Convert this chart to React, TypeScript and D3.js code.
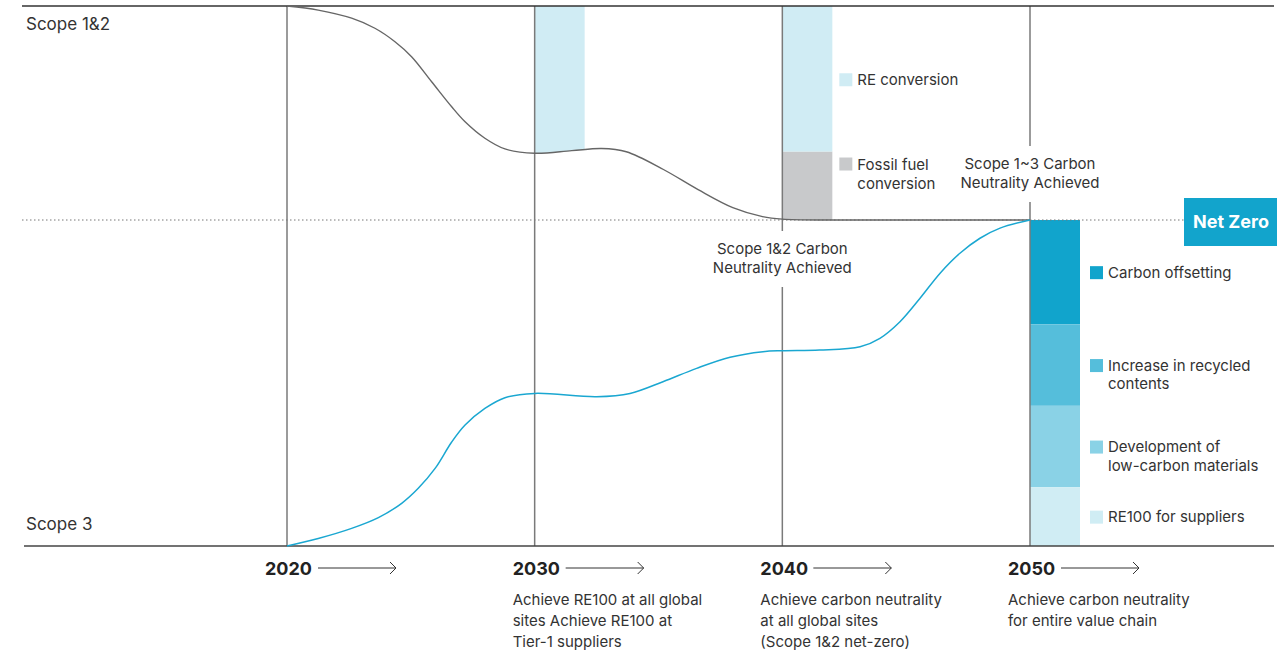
import React from "react";
import * as d3 from "d3";

// ---------- DATA ----------
const years = [2020, 2030, 2040, 2050];

// Scope 1&2 remaining emissions (% of 2020)
const scope12Curve: [number, number][] = [
  [2020, 100], [2021.26, 98.1], [2022.61, 94.3], [2023.55, 89.6], [2024.36, 83.3],
  [2025.03, 76.3], [2025.84, 64.6], [2026.65, 52.9], [2027.19, 45.9], [2027.99, 38.2],
  [2028.8, 33.2], [2030, 31.2], [2031.5, 32.4], [2032.7, 33.4], [2033.7, 31.9],
  [2035.2, 23.6], [2036.6, 14.2], [2038.0, 5.8], [2039.2, 1.6], [2040, 0.4],
  [2042, 0], [2045, 0], [2050, 0],
];

// Scope 3 remaining emissions (% of 2020, measured downward from net zero)
const scope3Curve: [number, number][] = [
  [2020, 100], [2021.26, 97.7], [2022.61, 94.6], [2023.69, 91.3], [2024.63, 86.9],
  [2025.3, 82.3], [2025.98, 76.2], [2026.65, 68.1], [2027.19, 62.9], [2027.99, 57.8],
  [2028.8, 54.5], [2030, 53.2], [2032.5, 54.2], [2033.85, 53.2], [2035.18, 49.6],
  [2036.54, 45.5], [2037.89, 42.1], [2039.22, 40.4], [2040, 40.1], [2041.5, 39.9],
  [2043.14, 38.9], [2043.94, 36.3], [2044.75, 31.2], [2045.56, 24.0], [2046.37, 16.3],
  [2047.17, 10.2], [2047.98, 5.6], [2048.79, 2.5], [2050, 0],
];

// 2040 stacked bar (Scope 1&2), bottom to top
const stack2040Labels = [["Fossil fuel", "conversion"], ["RE conversion"]];
const stack2040Values = [32, 68];
const stack2040Colors = ["#c8c9cb", "#d0ecf4"];

// 2050 stacked bar (Scope 3), top (net zero) to bottom
const stack2050Labels = [
  ["Carbon offsetting"],
  ["Increase in recycled", "contents"],
  ["Development of", "low-carbon materials"],
  ["RE100 for suppliers"],
];
const stack2050Values = [32, 25, 25, 18];
const stack2050Colors = ["#11a4cc", "#55bedb", "#8ad2e6", "#d0edf4"];

const milestoneDescriptions = [
  [],
  ["Achieve RE100 at all global", "sites Achieve RE100 at", "Tier-1 suppliers"],
  ["Achieve carbon neutrality", "at all global sites", "(Scope 1&2 net-zero)"],
  ["Achieve carbon neutrality", "for entire value chain"],
];

const scope12Achieved = ["Scope 1&2 Carbon", "Neutrality Achieved"];
const scope13Achieved = ["Scope 1~3 Carbon", "Neutrality Achieved"];

// ---------- LAYOUT ----------
const W = 1284;
const H = 652;
const TOP = 6;
const ZERO = 220;
const BASE = 546;
const BAR_W = 50;
const FONT = "Inter, 'Noto Sans', sans-serif";
const TXT = "#333";

const x = d3.scaleLinear().domain([2020, 2050]).range([287, 1030]);
const yTop = d3.scaleLinear().domain([0, 100]).range([ZERO, TOP]);
const yBot = d3.scaleLinear().domain([0, 100]).range([ZERO, BASE]);

export default function App() {
  const curve = d3.curveCatmullRom.alpha(0.5);
  const line12 = d3
    .line<[number, number]>()
    .x((d) => x(d[0]))
    .y((d) => yTop(d[1]))
    .curve(curve);
  const line3 = d3
    .line<[number, number]>()
    .x((d) => x(d[0]))
    .y((d) => yBot(d[1]))
    .curve(curve);
  const area2030 = d3
    .area<[number, number]>()
    .x((d) => x(d[0]))
    .y0(yTop(100))
    .y1((d) => yTop(d[1]))
    .curve(curve);

  // stacks
  let acc = 0;
  const s2040 = stack2040Values.map((v, i) => {
    const r = { y0: acc, y1: acc + v, i };
    acc += v;
    return r;
  });
  acc = 0;
  const s2050 = stack2050Values.map((v, i) => {
    const r = { y0: acc, y1: acc + v, i };
    acc += v;
    return r;
  });

  const x2030 = x(2030);
  const x2040 = x(2040);
  const x2050 = x(2050);

  // vertical line gaps for labels
  const gaps: Record<number, [number, number] | null> = {
    2020: null,
    2030: null,
    2040: [231, 287],
    2050: [146, 202],
  };

  return (
    <svg
      width={W}
      height={H}
      style={{ position: "absolute", left: 0, top: 0, background: "#fff" }}
      fontFamily={FONT}
    >
      <defs>
        <clipPath id="clip2030">
          <rect x={x2030} y={0} width={BAR_W} height={ZERO} />
        </clipPath>
      </defs>

      {/* 2030 RE conversion bar following the curve */}
      <path d={area2030(scope12Curve) || ""} fill="#d0ecf4" clipPath="url(#clip2030)" />

      {/* 2040 stacked bar */}
      {s2040.map((s) => (
        <rect
          key={"b40" + s.i}
          x={x2040}
          y={yTop(s.y1)}
          width={BAR_W}
          height={yTop(s.y0) - yTop(s.y1)}
          fill={stack2040Colors[s.i]}
        />
      ))}

      {/* 2050 stacked bar */}
      {s2050.map((s) => (
        <rect
          key={"b50" + s.i}
          x={x2050}
          y={yBot(s.y0)}
          width={BAR_W}
          height={yBot(s.y1) - yBot(s.y0)}
          fill={stack2050Colors[s.i]}
        />
      ))}

      {/* net zero dotted line */}
      <line x1={22} x2={1185} y1={ZERO} y2={ZERO} stroke="#777" strokeWidth={1} strokeDasharray="1.5 2.5" />

      {/* vertical lines */}
      {years.map((yr) => {
        const g = gaps[yr];
        const xx = x(yr);
        if (!g)
          return <line key={"v" + yr} x1={xx} x2={xx} y1={TOP} y2={BASE} stroke="#7a7a7a" strokeWidth={1.5} />;
        return (
          <g key={"v" + yr}>
            <line x1={xx} x2={xx} y1={TOP} y2={g[0]} stroke="#7a7a7a" strokeWidth={1.5} />
            <line x1={xx} x2={xx} y1={g[1]} y2={BASE} stroke="#7a7a7a" strokeWidth={1.5} />
          </g>
        );
      })}

      {/* top and bottom lines */}
      <line x1={22} x2={1274} y1={TOP} y2={TOP} stroke="#333" strokeWidth={1.5} />
      <line x1={24} x2={1274} y1={BASE} y2={BASE} stroke="#444" strokeWidth={1.5} />

      {/* curves */}
      <path d={line12(scope12Curve) || ""} fill="none" stroke="#666" strokeWidth={1.4} />
      <path d={line3(scope3Curve) || ""} fill="none" stroke="#1aa7d1" strokeWidth={1.5} />

      {/* Net Zero box */}
      <rect x={1184} y={198} width={93} height={48} fill="#12a4cc" />
      <text x={1231} y={228} textAnchor="middle" fill="#fff" fontSize={18} fontWeight={700}>
        Net Zero
      </text>

      {/* side labels */}
      <text x={26} y={30} fontSize={17} fill={TXT}>Scope 1&amp;2</text>
      <text x={26} y={530} fontSize={17} fill={TXT}>Scope 3</text>

      {/* 2040 legend */}
      {s2040.map((s) => {
        const top = yTop(s.y1);
        const bot = yTop(s.y0);
        const cy = s.i === 0 ? top + 12.5 : (top + bot) / 2 + 1;
        const lx = x2040 + BAR_W + 7;
        return (
          <g key={"l40" + s.i}>
            <rect x={lx} y={cy - 6.5} width={13} height={13} fill={stack2040Colors[s.i]} />
            {stack2040Labels[s.i].map((t, j) => (
              <text key={j} x={lx + 18} y={cy + 5.5 + j * 19} fontSize={15} fill={TXT}>
                {t}
              </text>
            ))}
          </g>
        );
      })}

      {/* 2050 legend */}
      {s2050.map((s) => {
        const cy = (yBot(s.y0) + yBot(s.y1)) / 2 + 0.5;
        const lx = x2050 + BAR_W + 10;
        return (
          <g key={"l50" + s.i}>
            <rect x={lx} y={cy - 6.5} width={13} height={13} fill={stack2050Colors[s.i]} />
            {stack2050Labels[s.i].map((t, j) => (
              <text key={j} x={lx + 18} y={cy + 5 + j * 18.5} fontSize={15} fill={TXT}>
                {t}
              </text>
            ))}
          </g>
        );
      })}

      {/* achievement labels */}
      {scope12Achieved.map((t, j) => (
        <text key={"a12" + j} x={x2040} y={254 + j * 19} textAnchor="middle" fontSize={15} fill={TXT}>
          {t}
        </text>
      ))}
      {scope13Achieved.map((t, j) => (
        <text key={"a13" + j} x={x2050} y={169 + j * 19} textAnchor="middle" fontSize={15} fill={TXT}>
          {t}
        </text>
      ))}

      {/* milestone axis labels */}
      {years.map((yr, i) => {
        const lx = x(yr) - 22;
        const ax0 = lx + 53;
        const ax1 = ax0 + 78;
        return (
          <g key={"m" + yr}>
            <text x={lx} y={575} fontSize={18} fontWeight={700} fill="#222">
              {yr}
            </text>
            <line x1={ax0} x2={ax1} y1={568} y2={568} stroke="#333" strokeWidth={1} />
            <path d={`M${ax1 - 6},${562} L${ax1},${568} L${ax1 - 6},${574}`} fill="none" stroke="#333" strokeWidth={1} />
            {milestoneDescriptions[i].map((t, j) => (
              <text key={j} x={lx} y={605 + j * 21} fontSize={15} fill={TXT}>
                {t}
              </text>
            ))}
          </g>
        );
      })}
    </svg>
  );
}
